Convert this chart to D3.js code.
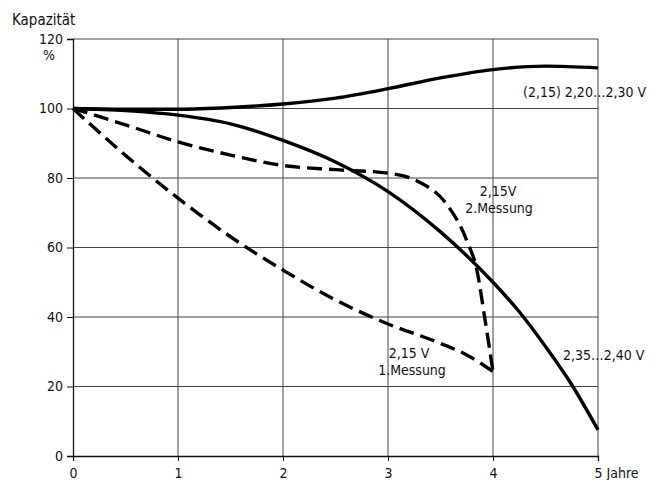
<!DOCTYPE html>
<html>
<head>
<meta charset="utf-8">
<script src="https://cdn.jsdelivr.net/npm/d3@7"></script>
<style>
  body { margin: 0; background: #fff; }
  svg text { font-family: "DejaVu Sans Condensed", "DejaVu Sans", sans-serif; fill: #111; }
</style>
</head>
<body>
<svg class="chart"></svg>
<script>
// Kapazität über Jahre, gelesen vom Bild
var xTicks = [0, 1, 2, 3, 4, 5]
var yTicks = [0, 20, 40, 60, 80, 100, 120]

var yearsA = [0, 0.5, 1, 1.5, 2, 2.5, 3, 3.5, 4, 4.5, 5]
var capA   = [100, 99.8, 99.8, 100.3, 101.3, 103, 105.7, 108.8, 111.2, 112.2, 111.7]

var yearsB = [0, 0.5, 1, 1.5, 2, 2.5, 3, 3.5, 4, 4.25, 4.5, 4.75, 5]
var capB   = [100, 99.4, 98.1, 95.6, 90.8, 84.6, 76.1, 64.5, 50, 41.5, 31.5, 20.5, 7.5]

var yearsC = [0, 0.5, 1, 1.5, 2, 2.5, 3, 3.3, 3.55, 3.75, 3.85, 3.92, 4]
var capC   = [100, 95.3, 90.4, 86.6, 83.6, 82.4, 81.4, 78.8, 72.8, 62, 53, 40, 24.3]

var yearsD = [0, 0.5, 1, 1.5, 2, 2.5, 3, 3.5, 3.75, 4]
var capD   = [100, 86.5, 74.2, 63.1, 53.5, 44.9, 38, 32.4, 29.1, 24.3]

var w = 653, h = 480

var svg = d3.select('.chart')
    .attr('width', w)
    .attr('height', h)

var x = d3.scaleLinear().domain([0, 5]).range([73, 598])
var y = d3.scaleLinear().domain([0, 120]).range([456, 39])

// grid
svg.append('g').selectAll('line.v')
    .data(xTicks.slice(1))
  .enter().append('line')
    .attr('x1', function(d) { return x(d) })
    .attr('x2', function(d) { return x(d) })
    .attr('y1', y(120))
    .attr('y2', y(0))
    .attr('stroke', '#444')
    .attr('stroke-width', 1)

svg.append('g').selectAll('line.h')
    .data(yTicks.slice(1))
  .enter().append('line')
    .attr('x1', x(0))
    .attr('x2', x(5))
    .attr('y1', function(d) { return y(d) })
    .attr('y2', function(d) { return y(d) })
    .attr('stroke', '#444')
    .attr('stroke-width', 1)

// axes
var yAxis = d3.axisLeft(y).tickValues(yTicks).tickSize(6).tickPadding(4)
var gy = svg.append('g')
    .attr('transform', 'translate(' + x(0) + ',0)')
    .call(yAxis)
gy.select('.domain').attr('stroke', '#111').attr('stroke-width', 1.3)
gy.selectAll('.tick line').attr('stroke', '#111')
gy.selectAll('.tick text')
    .style('font-size', '14px')
    .attr('fill', '#111')

var xAxis = d3.axisBottom(x).tickValues(xTicks).tickSize(5).tickPadding(7)
var gx = svg.append('g')
    .attr('transform', 'translate(0,' + y(0) + ')')
    .call(xAxis)
gx.select('.domain').attr('stroke', '#111').attr('stroke-width', 1.3)
gx.selectAll('.tick line').attr('stroke', '#111')
gx.selectAll('.tick text')
    .style('font-size', '14px')
    .attr('fill', '#111')
    .text(function(d) { return d })
gx.selectAll('.tick').filter(function(d) { return d === 5 })
  .select('text')
    .attr('text-anchor', 'start')
    .attr('dx', '-4')
    .text('5 Jahre')

// curves
var line = d3.line()
    .x(function(d) { return x(d[0]) })
    .y(function(d) { return y(d[1]) })
    .curve(d3.curveMonotoneX)

function pairs(xs, vs) {
  return xs.map(function(d, i) { return [d, vs[i]] })
}

var curves = [
  { pts: pairs(yearsA, capA), dash: null },
  { pts: pairs(yearsB, capB), dash: null },
  { pts: pairs(yearsC, capC), dash: '15,7' },
  { pts: pairs(yearsD, capD), dash: '15,7' }
]

svg.append('g').selectAll('path')
    .data(curves)
  .enter().append('path')
    .attr('d', function(d) { return line(d.pts) })
    .attr('fill', 'none')
    .attr('stroke', '#000')
    .attr('stroke-width', 3.4)
    .attr('stroke-dasharray', function(d) { return d.dash })

// labels
var labels = [
  { t: 'Kapazität', x: 12, y: 25, a: 'start', s: 15 },
  { t: '%', x: 49, y: 60, a: 'middle', s: 14 },
  { t: '(2,15) 2,20\u20262,30 V', x: 523, y: 97, a: 'start', s: 14 },
  { t: '2,15V', x: 498, y: 196, a: 'middle', s: 14 },
  { t: '2.Messung', x: 499, y: 213, a: 'middle', s: 14 },
  { t: '2,15 V', x: 409, y: 358, a: 'middle', s: 14 },
  { t: '1.Messung', x: 412, y: 375, a: 'middle', s: 14 },
  { t: '2,35\u20262,40 V', x: 563, y: 360, a: 'start', s: 14 }
]

svg.append('g').selectAll('text')
    .data(labels)
  .enter().append('text')
    .attr('x', function(d) { return d.x })
    .attr('y', function(d) { return d.y })
    .attr('text-anchor', function(d) { return d.a })
    .style('font-size', function(d) { return d.s + 'px' })
    .text(function(d) { return d.t })
</script>
</body>
</html>
